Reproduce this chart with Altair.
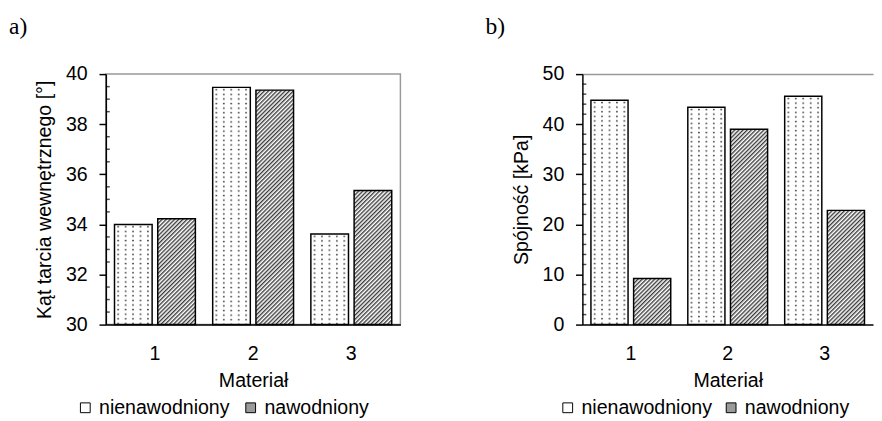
import altair as alt
import pandas as pd
from urllib.parse import quote

# ---- data ----
materials = ["1", "2", "3"]
series = ["nienawodniony", "nawodniony"]
angle_dry = [34.0, 39.47, 33.62]
angle_wet = [34.23, 39.36, 35.35]
coh_dry = [44.8, 43.4, 45.6]
coh_wet = [9.2, 39.0, 22.8]

angle_major = [30, 32, 34, 36, 38, 40]
angle_minor = [30.5, 31, 31.5, 32.5, 33, 33.5, 34.5, 35, 35.5, 36.5, 37, 37.5, 38.5, 39, 39.5]
coh_major = [0, 10, 20, 30, 40, 50]
coh_minor = [2, 4, 6, 8, 12, 14, 16, 18, 22, 24, 26, 28, 32, 34, 36, 38, 42, 44, 46, 48]

FONT = "Liberation Sans"
SERIF = "Liberation Serif"


def table(a, b):
    rows = []
    for m, va, vb in zip(materials, a, b):
        rows.append({"Materiał": m, "seria": series[0], "v": va})
        rows.append({"Materiał": m, "seria": series[1], "v": vb})
    return pd.DataFrame(rows)


def svg_uri(pattern):
    svg = ("<svg xmlns='http://www.w3.org/2000/svg' width='100%' height='100%'>"
           "<defs>" + pattern + "</defs>"
           "<rect width='100%' height='100%' fill='url(#p)'/></svg>")
    return "data:image/svg+xml," + quote(svg, safe="")


DOTS = svg_uri("<pattern id='p' x='0' y='0' width='7.6' height='4.7' patternUnits='userSpaceOnUse'>"
               "<rect width='7.6' height='4.7' fill='white'/>"
               "<rect x='3.0' y='1.7' width='1.5' height='1.5' fill='#2a2a2a'/></pattern>")
HATCH = svg_uri("<pattern id='p' width='3' height='3' patternUnits='userSpaceOnUse' "
                "patternTransform='rotate(45)'>"
                "<rect width='3' height='3' fill='white'/>"
                "<rect width='1.4' height='3' fill='#3a3a3a'/></pattern>")

PATTERN_EXPR = ("datum.seria == '" + series[0] + "' ? '" + DOTS + "' : '" + HATCH + "'")


def panel(df, major, minor, ymin, ymax, ytitle, label, legend_x, colpad, width, framed):
    base = alt.Chart(df)
    xaxis = alt.Axis(title="Materiał", labelAngle=0, ticks=False, tickSize=0,
                     labelPadding=20, titlePadding=7, domainColor="black")
    x = alt.X("Materiał:N", sort=materials,
              scale=alt.Scale(paddingInner=0, paddingOuter=0), axis=xaxis)
    xo = alt.XOffset("seria:N", sort=series,
                     scale=alt.Scale(domain=series, paddingInner=0.13, paddingOuter=0.2))
    yscale = alt.Scale(domain=[ymin, ymax], zero=False, nice=False)
    axis_kw = dict(values=major, orient="left", tickSize=7, labelPadding=12,
                   title=ytitle, titlePadding=11, format="d")
    if not framed:
        axis_kw.update(grid=True, gridColor="#999999", gridWidth=1.5,
                       gridOpacity={"condition": {"test": "datum.value == %s" % ymax,
                                                  "value": 1}, "value": 0})
    else:
        axis_kw.update(grid=False)
    y = alt.Y("v:Q", scale=yscale, axis=alt.Axis(**axis_kw))

    fill_layer = base.mark_bar().encode(
        x=x, xOffset=xo, y=y,
        y2=alt.datum(ymin),
        fill=alt.Fill("seria:N", sort=series,
                      scale=alt.Scale(domain=series, range=["white", "#9a9a9a"]),
                      legend=alt.Legend(orient="none", legendX=legend_x, legendY=331,
                                        direction="horizontal", title=None,
                                        symbolType="square", symbolSize=100,
                                        symbolStrokeColor="black", symbolStrokeWidth=1,
                                        labelFont=FONT, labelFontSize=20, labelColor="black",
                                        columnPadding=colpad, labelOffset=4, padding=0)),
    )
    pattern_layer = base.mark_image(aspect=False).transform_calculate(
        pat=PATTERN_EXPR
    ).encode(
        x=x, xOffset=xo, y=y,
        y2=alt.datum(ymin),
        url=alt.Url("pat:N"),
    )
    outline_layer = base.mark_bar(fill="transparent", stroke="black", strokeWidth=1.5).encode(
        x=x, xOffset=xo, y=y,
        y2=alt.datum(ymin),
    )
    minor_layer = alt.Chart(pd.DataFrame({"v": minor})).mark_tick(
        orient="horizontal", size=4, thickness=1.5, color="black"
    ).encode(
        y=y,
        x=alt.value(2),
    )
    view = (alt.ViewBackground(stroke="#999999", strokeWidth=1.5) if framed
            else alt.ViewBackground(stroke="transparent"))
    return alt.layer(fill_layer, pattern_layer, outline_layer, minor_layer).properties(
        width=width, height=256, view=view,
        title=alt.TitleParams(label, anchor="start", frame="group", dx=-99, offset=26,
                              font=SERIF, fontSize=24, fontWeight="normal", color="black"),
    )


left = panel(table(angle_dry, angle_wet), angle_major, angle_minor, 30, 40,
             "Kąt tarcia wewnętrznego [°]", "a)", -31, 11, 301, True)
right = panel(table(coh_dry, coh_wet), coh_major, coh_minor, 0, 50,
              "Spójność [kPa]", "b)", -25, 9, 297, False)

chart = alt.hconcat(left, right, spacing=85).resolve_scale(
    x="independent", y="independent", fill="independent", xOffset="independent"
).resolve_legend(fill="independent").properties(
    padding={"left": 0, "top": 2, "right": 0, "bottom": 0}
).configure_axis(
    labelFont=FONT, labelFontSize=20, labelColor="black",
    titleFont=FONT, titleFontSize=20, titleFontWeight="normal", titleColor="black",
    domainColor="black", domainWidth=1.5, tickColor="black", tickWidth=1.5,
)

chart.save("out.html", embed_options={"renderer": "svg", "actions": False})
